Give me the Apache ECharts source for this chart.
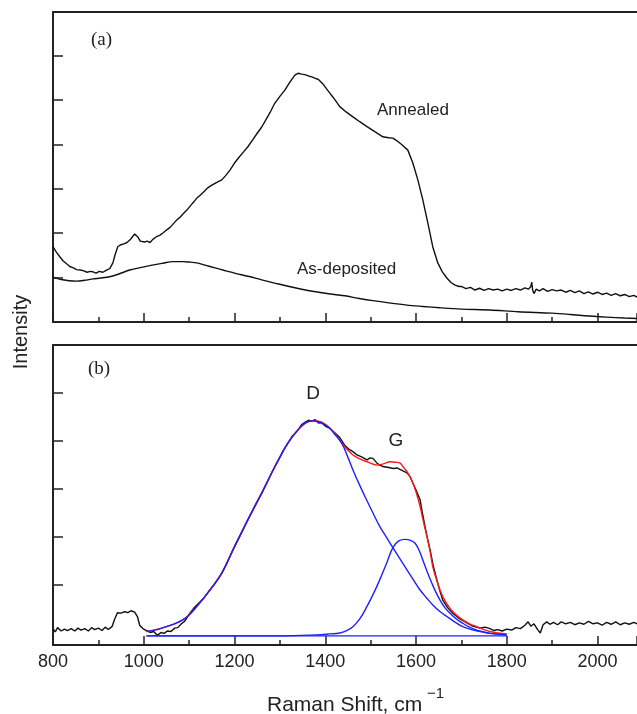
<!DOCTYPE html>
<html><head><meta charset="utf-8">
<script src="https://cdn.jsdelivr.net/npm/echarts@6/dist/echarts.min.js"></script>
<style>html,body{margin:0;padding:0;background:#fff}#c{width:637px;height:714px}</style>
</head><body><div id="c"></div>
<script>
// x: Raman shift (cm^-1); y: intensity in tick units (arbitrary)
const xTicks = [800, 1000, 1200, 1400, 1600, 1800, 2000];
const topYTicks = [1, 2, 3, 4, 5, 6];
const bottomYTicks = [1, 2, 3, 4, 5];

const annealed = [[800,1.70],[807,1.58],[815,1.47],[822,1.38],[830,1.31],[837,1.25],[845,1.22],[852,1.18],[860,1.17],[868,1.15],[875,1.12],[882,1.14],[888,1.13],[895,1.10],[902,1.14],[910,1.12],[918,1.17],[925,1.20],[932,1.33],[937,1.52],[943,1.70],[950,1.74],[956,1.76],[963,1.79],[970,1.85],[976,1.93],[980,1.98],[984,1.96],[988,1.90],[992,1.82],[996,1.79],[1002,1.80],[1007,1.82],[1014,1.79],[1020,1.86],[1028,1.92],[1035,1.95],[1043,2.01],[1050,2.07],[1058,2.13],[1065,2.21],[1073,2.30],[1080,2.36],[1088,2.45],[1095,2.52],[1103,2.62],[1110,2.70],[1117,2.79],[1125,2.86],[1133,2.94],[1141,3.02],[1150,3.08],[1160,3.14],[1172,3.20],[1180,3.29],[1190,3.42],[1200,3.58],[1210,3.71],[1220,3.83],[1229,3.94],[1240,4.10],[1250,4.25],[1260,4.39],[1270,4.57],[1280,4.75],[1289,4.93],[1300,5.08],[1311,5.22],[1322,5.40],[1333,5.56],[1340,5.60],[1348,5.58],[1355,5.57],[1363,5.54],[1370,5.52],[1377,5.49],[1385,5.46],[1395,5.36],[1405,5.22],[1418,5.05],[1432,4.85],[1446,4.73],[1461,4.62],[1476,4.51],[1492,4.40],[1510,4.28],[1527,4.17],[1540,4.15],[1549,4.14],[1558,4.08],[1569,3.99],[1582,3.87],[1593,3.58],[1604,3.20],[1615,2.75],[1626,2.23],[1637,1.69],[1648,1.33],[1658,1.13],[1668,0.99],[1677,0.89],[1686,0.83],[1695,0.80],[1700,0.80],[1710,0.75],[1720,0.78],[1730,0.72],[1740,0.76],[1750,0.71],[1760,0.75],[1770,0.72],[1780,0.74],[1790,0.70],[1800,0.74],[1810,0.71],[1820,0.75],[1830,0.72],[1840,0.77],[1848,0.74],[1853,0.80],[1855,0.90],[1857,0.72],[1860,0.64],[1865,0.74],[1872,0.70],[1880,0.75],[1890,0.69],[1900,0.73],[1910,0.70],[1920,0.72],[1930,0.67],[1940,0.71],[1950,0.66],[1960,0.70],[1970,0.64],[1980,0.68],[1990,0.63],[2000,0.67],[2010,0.62],[2020,0.65],[2030,0.60],[2040,0.64],[2050,0.59],[2060,0.62],[2070,0.57],[2080,0.60],[2087,0.56]];

const asDeposited = [[800,1.01],[812,0.97],[821,0.95],[835,0.93],[852,0.92],[870,0.94],[888,0.97],[905,0.99],[925,1.02],[945,1.08],[969,1.17],[990,1.22],[1013,1.27],[1040,1.32],[1064,1.36],[1086,1.36],[1100,1.35],[1117,1.33],[1135,1.28],[1157,1.22],[1178,1.16],[1200,1.10],[1230,1.03],[1260,0.95],[1295,0.86],[1333,0.77],[1362,0.71],[1392,0.66],[1420,0.62],[1443,0.59],[1475,0.53],[1505,0.48],[1540,0.43],[1580,0.38],[1615,0.35],[1653,0.32],[1700,0.29],[1763,0.27],[1825,0.23],[1900,0.20],[1940,0.17],[1972,0.14],[2020,0.11],[2060,0.09],[2087,0.08]];

const measured = [[800,0.10],[805,0.03],[810,0.12],[818,0.05],[825,0.09],[832,0.06],[840,0.10],[848,0.05],[855,0.11],[862,0.07],[870,0.10],[878,0.05],[885,0.12],[892,0.08],[900,0.11],[908,0.06],[915,0.13],[922,0.08],[930,0.14],[936,0.30],[942,0.43],[950,0.42],[958,0.45],[965,0.43],[972,0.47],[980,0.44],[986,0.35],[991,0.17],[998,0.10],[1006,0.06],[1014,0.02],[1022,0.04],[1030,-0.04],[1038,0.02],[1045,0.00],[1052,0.05],[1060,0.04],[1068,0.11],[1075,0.12],[1083,0.20],[1090,0.25],[1095,0.32],[1100,0.40],[1110,0.52],[1117,0.59],[1125,0.66],[1133,0.74],[1141,0.84],[1150,0.95],[1160,1.08],[1172,1.25],[1180,1.40],[1190,1.60],[1200,1.80],[1210,1.98],[1220,2.17],[1229,2.35],[1240,2.55],[1250,2.74],[1260,2.91],[1270,3.10],[1280,3.29],[1289,3.46],[1300,3.65],[1308,3.80],[1318,3.95],[1328,4.10],[1340,4.22],[1348,4.33],[1356,4.38],[1363,4.42],[1370,4.40],[1378,4.43],[1385,4.36],[1392,4.37],[1400,4.30],[1410,4.25],[1421,4.16],[1432,4.06],[1443,3.90],[1452,3.82],[1461,3.77],[1470,3.70],[1480,3.66],[1492,3.60],[1499,3.64],[1505,3.63],[1515,3.52],[1527,3.46],[1540,3.44],[1550,3.42],[1558,3.43],[1569,3.38],[1580,3.33],[1587,3.25],[1593,3.12],[1601,2.95],[1609,2.77],[1615,2.45],[1620,2.21],[1625,1.98],[1631,1.73],[1638,1.40],[1646,1.11],[1652,0.90],[1659,0.69],[1670,0.53],[1681,0.42],[1695,0.31],[1712,0.22],[1725,0.15],[1741,0.11],[1752,0.13],[1763,0.10],[1772,0.06],[1780,0.08],[1790,0.05],[1800,0.09],[1811,0.07],[1820,0.12],[1830,0.10],[1840,0.17],[1847,0.24],[1853,0.15],[1860,0.20],[1868,0.08],[1874,0.01],[1880,0.18],[1888,0.24],[1895,0.19],[1903,0.23],[1912,0.18],[1920,0.24],[1930,0.20],[1940,0.23],[1950,0.18],[1960,0.22],[1970,0.19],[1980,0.25],[1990,0.20],[2000,0.22],[2010,0.17],[2020,0.23],[2030,0.19],[2040,0.24],[2050,0.18],[2060,0.22],[2070,0.19],[2080,0.23],[2087,0.20]];

const fitSum = [[1006,0.04],[1050,0.14],[1086,0.28],[1117,0.56],[1141,0.84],[1172,1.25],[1200,1.80],[1229,2.35],[1260,2.91],[1289,3.46],[1318,3.95],[1340,4.22],[1356,4.36],[1373,4.41],[1390,4.39],[1406,4.29],[1420,4.16],[1432,4.01],[1446,3.84],[1461,3.70],[1476,3.62],[1492,3.56],[1514,3.49],[1530,3.52],[1543,3.56],[1555,3.55],[1565,3.53],[1571,3.46],[1582,3.33],[1593,3.12],[1601,2.90],[1609,2.63],[1616,2.33],[1624,2.01],[1631,1.70],[1637,1.38],[1645,1.12],[1653,0.90],[1663,0.69],[1675,0.52],[1689,0.38],[1703,0.28],[1718,0.20],[1734,0.14],[1750,0.08],[1763,0.04],[1780,0.01],[1800,-0.01]];

const bandD = [[1006,0.04],[1030,0.08],[1050,0.14],[1070,0.21],[1086,0.28],[1100,0.38],[1117,0.56],[1141,0.84],[1172,1.25],[1200,1.80],[1229,2.35],[1260,2.91],[1289,3.46],[1318,3.95],[1340,4.22],[1356,4.36],[1373,4.41],[1390,4.37],[1406,4.29],[1420,4.14],[1437,3.93],[1450,3.65],[1461,3.39],[1476,3.07],[1492,2.75],[1506,2.48],[1520,2.22],[1535,1.99],[1549,1.78],[1565,1.54],[1580,1.32],[1595,1.10],[1609,0.90],[1623,0.74],[1637,0.59],[1652,0.46],[1668,0.35],[1685,0.24],[1703,0.14],[1722,0.08],[1741,0.04],[1763,0.00],[1800,-0.03]];

const bandG = [[1006,-0.05],[1300,-0.05],[1380,-0.03],[1410,-0.01],[1432,0.01],[1447,0.06],[1461,0.14],[1476,0.30],[1492,0.56],[1506,0.82],[1520,1.11],[1535,1.45],[1549,1.78],[1562,1.92],[1576,1.95],[1588,1.93],[1598,1.87],[1607,1.72],[1615,1.52],[1625,1.27],[1635,1.04],[1644,0.85],[1653,0.69],[1664,0.53],[1675,0.42],[1689,0.30],[1703,0.21],[1718,0.13],[1734,0.07],[1750,0.03],[1763,0.00],[1800,-0.03]];

const fitBaseline = [[1006,-0.05],[1800,-0.05]];

const AX = '#222';
const SANS = 'Liberation Sans, Arial, sans-serif';
const SERIF = 'Liberation Serif, Times New Roman, serif';

function bottomX(grid, labels) {
  return {
    type: 'value', gridIndex: grid, position: 'bottom', min: 800, max: 2087, interval: 200,
    axisLine: {show: true, onZero: false, lineStyle: {color: AX, width: 2}},
    axisTick: {show: true, inside: true, length: 9, lineStyle: {color: AX, width: 1.5}},
    minorTick: {show: true, splitNumber: 2, length: 5, lineStyle: {color: AX, width: 1.5}},
    axisLabel: {show: labels, showMaxLabel: false, margin: 8, color: AX, fontSize: 18, fontFamily: SANS,
      formatter: v => (xTicks.indexOf(v) >= 0 ? String(v) : '')},
    splitLine: {show: false}, minorSplitLine: {show: false}
  };
}
function topX(grid) {
  return {
    type: 'value', gridIndex: grid, position: 'top', min: 800, max: 2087,
    axisLine: {show: true, onZero: false, lineStyle: {color: AX, width: 2}},
    axisTick: {show: false}, axisLabel: {show: false}, splitLine: {show: false}
  };
}

const blackLine = {color: '#111', width: 1.4};
const blueLine = {color: '#1f1fff', width: 1.4};

const option = {
  animation: false,
  backgroundColor: '#fff',
  grid: [
    {left: 53, right: 0, top: 12, height: 310},
    {left: 53, right: 0, top: 345, height: 300}
  ],
  xAxis: [bottomX(0, false), topX(0), bottomX(1, true), topX(1)],
  yAxis: [
    {type: 'value', gridIndex: 0, min: 0, max: 6.98,
     axisLine: {show: true, onZero: false, lineStyle: {color: AX, width: 2}},
     axisTick: {show: true, inside: true, length: 10, customValues: topYTicks, lineStyle: {color: AX, width: 1.5}},
     axisLabel: {show: false}, splitLine: {show: false}},
    {type: 'value', gridIndex: 1, min: -0.24, max: 5.98,
     axisLine: {show: true, onZero: false, lineStyle: {color: AX, width: 2}},
     axisTick: {show: true, inside: true, length: 10, customValues: bottomYTicks, lineStyle: {color: AX, width: 1.5}},
     axisLabel: {show: false}, splitLine: {show: false}}
  ],
  series: [
    {name: 'Annealed', type: 'line', xAxisIndex: 0, yAxisIndex: 0, data: annealed, showSymbol: false, lineStyle: blackLine},
    {name: 'As-deposited', type: 'line', xAxisIndex: 0, yAxisIndex: 0, data: asDeposited, showSymbol: false, smooth: 0.3, lineStyle: blackLine},
    {name: 'Measured', type: 'line', xAxisIndex: 2, yAxisIndex: 1, data: measured, showSymbol: false, lineStyle: blackLine},
    {name: 'Fit', type: 'line', xAxisIndex: 2, yAxisIndex: 1, data: fitSum, showSymbol: false, smooth: 0.4, lineStyle: {color: '#ff1a1a', width: 1.4}},
    {name: 'D', type: 'line', xAxisIndex: 2, yAxisIndex: 1, data: bandD, showSymbol: false, smooth: 0.4, lineStyle: blueLine},
    {name: 'G', type: 'line', xAxisIndex: 2, yAxisIndex: 1, data: bandG, showSymbol: false, smooth: 0.4, lineStyle: blueLine},
    {name: 'Baseline', type: 'line', xAxisIndex: 2, yAxisIndex: 1, data: fitBaseline, showSymbol: false, lineStyle: blueLine}
  ],
  graphic: [
    {type: 'text', x: 91, y: 40, style: {text: '(a)', font: '19px ' + SERIF, fill: AX, textVerticalAlign: 'middle'}},
    {type: 'text', x: 88, y: 369, style: {text: '(b)', font: '19px ' + SERIF, fill: AX, textVerticalAlign: 'middle'}},
    {type: 'text', x: 377, y: 110, style: {text: 'Annealed', font: '17px ' + SANS, fill: AX, textVerticalAlign: 'middle'}},
    {type: 'text', x: 297, y: 269, style: {text: 'As-deposited', font: '17px ' + SANS, fill: AX, textVerticalAlign: 'middle'}},
    {type: 'text', x: 313, y: 394, style: {text: 'D', font: '19px ' + SANS, fill: AX, textAlign: 'center', textVerticalAlign: 'middle'}},
    {type: 'text', x: 396, y: 441, style: {text: 'G', font: '19px ' + SANS, fill: AX, textAlign: 'center', textVerticalAlign: 'middle'}},
    {type: 'text', x: 21, y: 332, rotation: Math.PI / 2, style: {text: 'Intensity', font: '20px ' + SANS, fill: AX, textAlign: 'center', textVerticalAlign: 'middle'}},
    {type: 'text', x: 267, y: 705, style: {text: 'Raman Shift, cm', font: '21px ' + SANS, fill: AX, textVerticalAlign: 'middle'}},
    {type: 'text', x: 427, y: 694, style: {text: '\u22121', font: '15px ' + SANS, fill: AX, textVerticalAlign: 'middle'}}
  ]
};
const chart = echarts.init(document.getElementById('c'), null, {renderer: 'canvas'});
chart.setOption(option);
</script></body></html>
